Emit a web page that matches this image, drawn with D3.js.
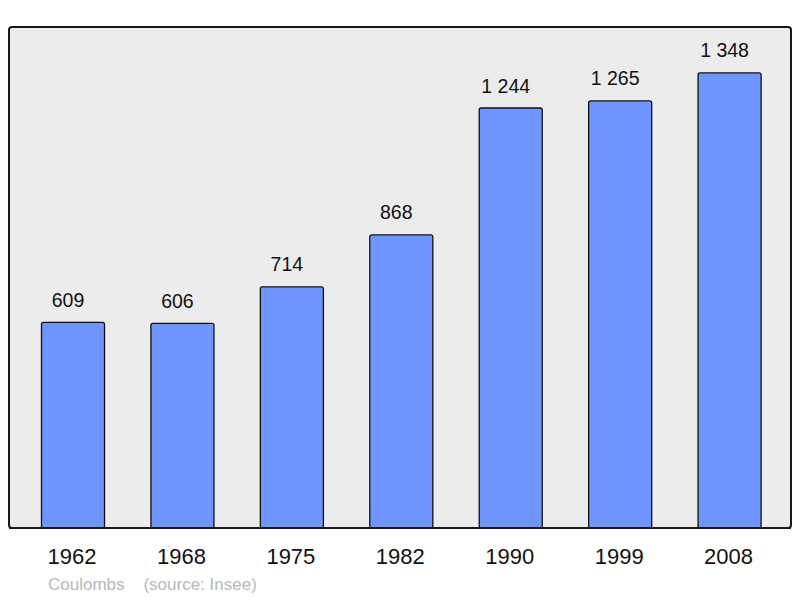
<!DOCTYPE html>
<html><head><meta charset="utf-8">
<script src="https://cdn.jsdelivr.net/npm/d3@7"></script>
<style>body{margin:0;background:#fff;}svg{display:block;font-family:"Liberation Sans",Arial,sans-serif;}</style>
</head><body>
<svg id="c" width="800" height="598"></svg>
<script>
const years = ["1962","1968","1975","1982","1990","1999","2008"];
const population = [609, 606, 714, 868, 1244, 1265, 1348];
const caption = "Coulombs    (source: Insee)";

const svg = d3.select("#c");
const panel = {x0: 9, y0: 27, x1: 791, y1: 528};
svg.append("rect").attr("x", panel.x0).attr("y", panel.y0)
  .attr("width", panel.x1 - panel.x0).attr("height", panel.y1 - panel.y0)
  .attr("rx", 3).attr("fill", "#ececec").attr("stroke", "#1a1a1a").attr("stroke-width", 2);

const x = d3.scaleBand().domain(years).range([18.3, 784.3]).paddingInner(0.424).paddingOuter(0.212);
const y = d3.scaleLinear().domain([0, 1484]).range([panel.y1, panel.y0]);

const fmt = v => d3.format(",")(v).replace(/,/g, " ");

svg.selectAll("rect.bar").data(population).join("rect").attr("class", "bar")
  .attr("x", (d, i) => x(years[i])).attr("y", d => y(d))
  .attr("width", x.bandwidth()).attr("height", d => y(0) - y(d))
  .attr("rx", 2).attr("fill", "#6f96ff").attr("stroke", "#111").attr("stroke-width", 1.3);

svg.append("line").attr("x1", panel.x0).attr("x2", panel.x1).attr("y1", panel.y1).attr("y2", panel.y1)
  .attr("stroke", "#1a1a1a").attr("stroke-width", 2);

svg.selectAll("text.val").data(population).join("text").attr("class", "val")
  .attr("x", (d, i) => x(years[i]) + x.bandwidth() / 2 - 5).attr("y", d => y(d) - 15.5)
  .attr("text-anchor", "middle").attr("font-size", 19.5).attr("fill", "#111").text(fmt);

const axis = d3.axisBottom(x).tickSize(0).tickPadding(0);
const g = svg.append("g").attr("transform", `translate(-1,${panel.y1 + 36})`).call(axis);
g.select(".domain").remove();
g.selectAll("text").attr("font-size", 22).attr("fill", "#111").attr("font-family", "Liberation Sans, Arial, sans-serif").attr("dy", "0");

svg.append("text").attr("x", 48).attr("y", 590).attr("font-size", 17).attr("fill", "#b8b8b8")
  .attr("xml:space", "preserve").style("white-space", "pre").text(caption);
</script>
</body></html>
